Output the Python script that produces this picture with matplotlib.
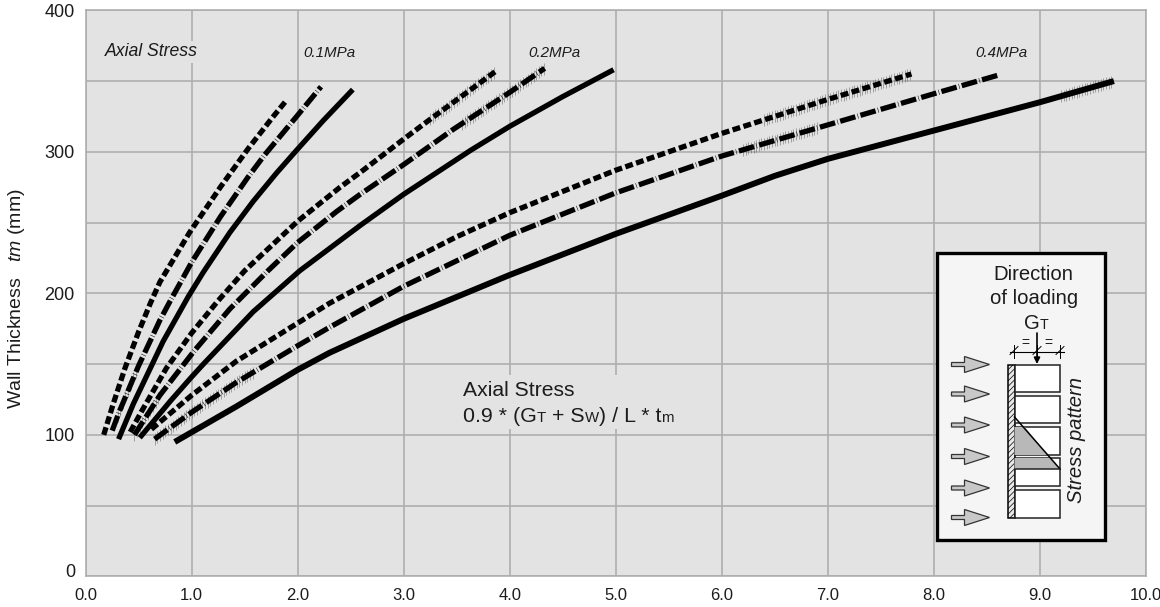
"""Wall thickness vs axial stress chart with the loading sketch inset."""

import matplotlib
matplotlib.use("Agg")

import matplotlib.pyplot as plt
import numpy as np
from matplotlib.patches import Polygon, Rectangle

plt.rcParams["font.family"] = ["Liberation Sans", "DejaVu Sans"]
plt.rcParams["mathtext.fontset"] = "custom"
plt.rcParams["mathtext.rm"] = "Liberation Sans"
plt.rcParams["mathtext.it"] = "Liberation Sans:italic"
plt.rcParams["hatch.linewidth"] = 0.5

# --- Data ---------------------------------------------------------------------
x_ticks = [0, 1, 2, 3, 4, 5, 6, 7, 8, 9, 10]
y_ticks = [0, 100, 200, 300, 400]

# 0.1 MPa
x_01_dash = [0.17, 0.26, 0.37, 0.5, 0.61, 0.7, 0.98, 1.27, 1.53, 1.77, 1.89]
y_01_dash = [100, 122, 147, 173, 193, 208, 243, 275, 302, 325, 336]
x_01_dashdot = [0.25, 0.32, 0.5, 0.7, 0.8, 1.0, 1.27, 1.53, 1.69, 1.99, 2.22]
y_01_dashdot = [103, 117, 149, 181, 195, 222, 254, 282, 298, 325, 346]
x_01_solid = [0.31, 0.45, 0.73, 0.97, 1.11, 1.36, 1.58, 1.8, 2.0, 2.24, 2.52]
y_01_solid = [97, 122, 166, 198, 215, 243, 265, 285, 302, 322, 344]

# 0.2 MPa
x_02_dash = [0.42, 0.53, 0.76, 1.0, 1.24, 1.5, 2.0, 2.4, 2.6, 3.0, 3.25, 3.56, 3.87]
y_02_dash = [102, 117, 147, 172, 194, 216, 251, 275, 286, 309, 323, 340, 357]
x_02_dashdot = [0.46, 0.7, 1.02, 1.36, 1.72, 2.0, 2.37, 2.59, 3.0, 3.47, 4.0, 4.33]
y_02_dashdot = [100, 128, 159, 189, 216, 236, 258, 270, 291, 316, 342, 359]
x_02_solid = [0.51, 0.8, 1.0, 1.11, 1.58, 2.02, 2.59, 3.0, 3.63, 4.0, 4.5, 4.98]
y_02_solid = [98, 124, 141, 150, 187, 216, 248, 270, 301, 318, 339, 358]

# 0.4 MPa
x_04_dash = [0.62, 1.0, 1.42, 2.0, 2.3, 3.0, 3.5, 4.0, 5.0, 6.0, 7.0, 7.79]
y_04_dash = [104, 128, 152, 179, 193, 221, 240, 257, 287, 313, 337, 355]
x_04_dashdot = [0.65, 1.0, 1.42, 2.0, 2.3, 3.0, 4.0, 5.0, 6.0, 7.0, 8.0, 8.6]
y_04_dashdot = [97, 116, 137, 163, 176, 205, 241, 271, 297, 319, 341, 354]
x_04_solid = [0.84, 1.42, 2.0, 2.3, 3.0, 4.0, 5.0, 6.0, 6.5, 7.0, 8.0, 9.0, 9.7]
y_04_solid = [95, 120, 146, 158, 182, 213, 242, 269, 283, 295, 315, 335, 350]

pressure_labels = ["0.1MPa", "0.2MPa", "0.4MPa"]

# stretches of the curves where the print shows a fuzzy edge
fuzz_04_solid = (9.2, 9.7)
fuzz_04_dash = (6.4, 7.8)
fuzz_04_dashdot = (6.2, 6.9)
fuzz_04_dashdot_low = (0.65, 1.6)
fuzz_02_dash = (3.25, 3.87)
fuzz_02_dashdot = (3.55, 4.33)
fuzz_02_dashdot_low = (0.46, 0.7)
fuzz_01_dashdot_low = (0.3, 0.5)

BG = "#e3e3e3"
GRID = "#adadad"
INK = "#1c1c1c"
DASH = (0, (1.5, 0.65))
DASHDOT = (0, (3.0, 0.45, 0.1, 0.45))


def draw_curve(ax, xs, ys, style="-", lw=3.8, fuzz=()):
    """Draw one curve, with the hairline fuzz under it where asked."""
    for lo, hi in fuzz:
        tick_x = np.arange(lo, hi, 0.025)
        tick_y = np.interp(tick_x, xs, ys)
        ax.vlines(tick_x, tick_y - 4.2, tick_y + 4.2, color="#555555", lw=0.45, alpha=0.75)
    ax.plot(xs, ys, color="black", lw=lw, linestyle=style, dash_capstyle="butt",
            solid_capstyle="butt", solid_joinstyle="round", dash_joinstyle="round")


def draw_runs(ax, fig, x, y, runs, size):
    """Write text runs one after the other, small runs stand for the small caps."""
    renderer = fig.canvas.get_renderer()
    for text, scale in runs:
        t = ax.text(x, y, text, fontsize=size * scale, color=INK, va="baseline", ha="left")
        box = t.get_window_extent(renderer)
        x += box.width
    return x


def draw_arrow(ax, y):
    """One of the outlined load arrows of the sketch, y in sketch pixels."""
    pts = [(951.5, y - 2), (964.5, y - 2), (964.5, y - 8), (989.5, y),
           (964.5, y + 8), (964.5, y + 2), (951.5, y + 2)]
    ax.add_patch(Polygon(pts, closed=True, fc="#c8c8c8", ec="#333333", lw=0.9))


def draw_sketch(ax, fig):
    """Inset box: direction of loading, wall section and stress pattern."""
    ax.add_patch(Rectangle((937, 253), 168, 287, fc="#f5f5f5", ec="black", lw=2.4))
    ax.text(1033.5, 275, "Direction", fontsize=14.6, color=INK, ha="center", va="center")
    ax.text(1034, 299, "of loading", fontsize=14.6, color=INK, ha="center", va="center")
    draw_runs(ax, fig, 1024, 329, [("G", 1.0), ("T", 0.7)], 14.6)

    for y in [364.5, 394, 425, 456.5, 488, 517.5]:
        draw_arrow(ax, y)

    # wall facing and bricks
    ax.add_patch(Rectangle((1007.5, 364.5), 7, 153, fc="#e8e8e8", ec="black", lw=1.1,
                           hatch="//////"))
    for top, bottom in [(364.5, 392), (396, 423), (427, 455), (458, 486), (490, 517.5)]:
        ax.add_patch(Rectangle((1014.5, top), 45.5, bottom - top, fc="white", ec="#222222", lw=1.1))

    # stress block, cut by the mortar joint
    ax.add_patch(Polygon([(1014.5, 427), (1025, 427), (1047, 455), (1014.5, 455)], closed=True,
                         fc="#b8b8b8", ec="none", hatch="//////", lw=0))
    ax.add_patch(Polygon([(1014.5, 458), (1050, 458), (1060, 469), (1014.5, 469)], closed=True,
                         fc="#b8b8b8", ec="none", hatch="//////", lw=0))
    ax.plot([1014.5, 1060], [417, 469], color="black", lw=1.1)
    ax.plot([1014.5, 1060], [469, 469], color="#222222", lw=1.1)

    # dimension line and load
    ax.plot([1010, 1064], [351.5, 351.5], color="black", lw=0.8)
    for x in [1014, 1037, 1060]:
        ax.plot([x, x], [345, 358], color="black", lw=0.7)
        ax.plot([x - 4, x + 4], [354.5, 346.5], color="black", lw=0.7)
    ax.annotate("", xy=(1037, 364), xytext=(1037, 333),
                arrowprops=dict(arrowstyle="-|>", color="black", lw=1.2, mutation_scale=9,
                                shrinkA=0, shrinkB=0))
    ax.text(1025, 343, "=", fontsize=10, color=INK, ha="center", va="center")
    ax.text(1048.5, 343, "=", fontsize=10, color=INK, ha="center", va="center")
    ax.text(1076, 440, "Stress pattern", fontsize=14.6, style="italic", color=INK,
            rotation=90, ha="center", va="center")


fig = plt.figure(figsize=(11.6, 6.07), dpi=100)
fig.canvas.draw()
ax = fig.add_axes([85.7 / 1160, 1 - 576.4 / 607, 1060 / 1160, 566.1 / 607])
ax.set_facecolor(BG)
ax.set_xlim(0, 10)
ax.set_ylim(0, 400)
ax.set_xticks(x_ticks)
ax.set_xticklabels([f"{v:.1f}" for v in x_ticks], fontsize=12, color=INK)
ax.set_yticks(y_ticks)
# the 0 sits a little above its line, it is written with the notes below
ax.set_yticklabels(["" if v == 0 else str(v) for v in y_ticks], fontsize=13, color=INK)
ax.set_yticks(range(50, 400, 100), minor=True)
ax.tick_params(which="both", length=0)
ax.tick_params(axis="x", pad=8.5)
ax.tick_params(axis="y", pad=8)
ax.grid(True, which="both", color=GRID, linewidth=1.15)
ax.set_axisbelow(True)
for spine in ax.spines.values():
    spine.set_color(GRID)
    spine.set_linewidth(1.15)

draw_curve(ax, x_01_dash, y_01_dash, DASH)
draw_curve(ax, x_01_dashdot, y_01_dashdot, DASHDOT, fuzz=[fuzz_01_dashdot_low])
draw_curve(ax, x_01_solid, y_01_solid)
draw_curve(ax, x_02_dash, y_02_dash, DASH, fuzz=[fuzz_02_dash])
draw_curve(ax, x_02_dashdot, y_02_dashdot, DASHDOT, fuzz=[fuzz_02_dashdot, fuzz_02_dashdot_low])
draw_curve(ax, x_02_solid, y_02_solid)
draw_curve(ax, x_04_dash, y_04_dash, DASH, fuzz=[fuzz_04_dash])
draw_curve(ax, x_04_dashdot, y_04_dashdot, DASHDOT, fuzz=[fuzz_04_dashdot, fuzz_04_dashdot_low])
draw_curve(ax, x_04_solid, y_04_solid, lw=4.3, fuzz=[fuzz_04_solid])

# overlay in picture pixels for the notes and the sketch
over = fig.add_axes([0, 0, 1, 1], facecolor="none")
over.set_xlim(0, 1160)
over.set_ylim(607, 0)
over.axis("off")

over.text(17, 298.5, "Wall Thickness   $\\mathit{tm}$ (mm)", fontsize=14, color=INK,
          rotation=90, ha="center", va="center")
over.text(75, 572.7, "0", fontsize=13, color=INK, ha="right", va="center")

over.add_patch(Rectangle((104, 41), 96, 22, fc=BG, ec="none"))
over.text(105, 52, "Axial Stress", fontsize=12.7, style="italic", color=INK, va="center")
for label, px in zip(pressure_labels, [303, 528, 975]):
    over.add_patch(Rectangle((px - 1, 41), 55, 22, fc=BG, ec="none"))
    over.text(px, 53, label, fontsize=10.9, style="italic", color=INK, va="center")

over.add_patch(Rectangle((462, 375), 220, 54, fc=BG, ec="none"))
over.text(463, 396, "Axial Stress", fontsize=15.2, color=INK, va="baseline")
draw_runs(over, fig, 463, 422,
          [("0.9 * (G", 1.0), ("T", 0.7), (" + S", 1.0), ("W", 0.7), (") / L * t", 1.0), ("m", 0.7)],
          15.4)

draw_sketch(over, fig)

fig.savefig("out.png", dpi=100)
plt.close(fig)
